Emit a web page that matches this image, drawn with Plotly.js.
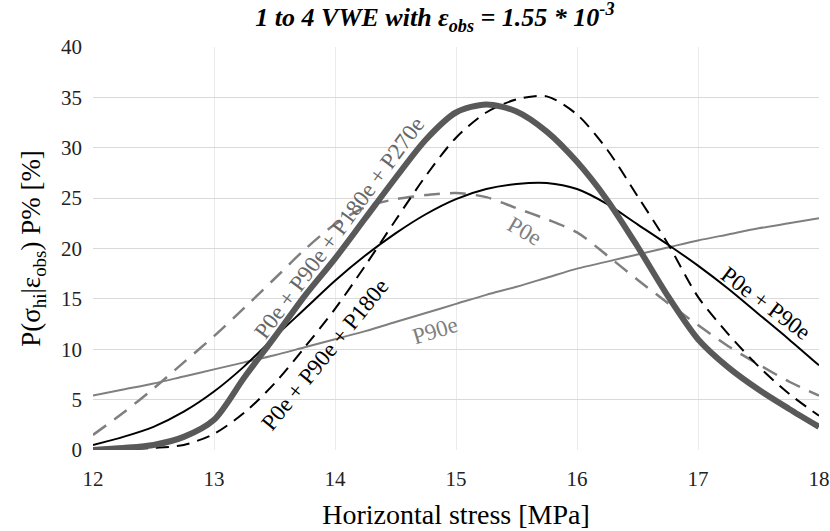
<!DOCTYPE html>
<html>
<head>
<meta charset="utf-8">
<script src="https://cdn.plot.ly/plotly-3.0.1.min.js"></script>
<style>html,body{margin:0;padding:0;background:#fff;}#chart{width:830px;height:531px;}</style>
</head>
<body>
<div id="chart"></div>
<script>
const stress = [12, 12.25, 12.5, 12.75, 13, 13.25, 13.5, 13.75, 14, 14.25, 14.5, 14.75, 15, 15.25, 15.5, 15.75, 16, 16.25, 16.5, 16.75, 17, 17.25, 17.5, 17.75, 18];
const p90e = [5.4, 6.0, 6.6, 7.3, 8.0, 8.7, 9.4, 10.2, 11.0, 11.8, 12.7, 13.6, 14.5, 15.4, 16.2, 17.1, 18.0, 18.7, 19.4, 20.1, 20.8, 21.4, 22.0, 22.5, 23.0];
const p0e = [1.5, 3.7, 6.1, 8.7, 11.3, 14.1, 17.0, 19.9, 22.4, 24.1, 24.9, 25.3, 25.5, 25.1, 24.0, 22.9, 21.6, 19.3, 16.9, 14.6, 12.4, 10.3, 8.5, 6.8, 5.4];
const p0e_p90e = [0.5, 1.3, 2.3, 3.8, 5.8, 8.3, 11.2, 14.0, 16.8, 19.3, 21.5, 23.4, 24.9, 25.9, 26.4, 26.5, 25.9, 24.4, 22.4, 20.4, 18.3, 16.0, 13.5, 11.0, 8.4];
const p0e_p90e_p180e = [0, 0.05, 0.2, 0.5, 1.6, 3.7, 6.6, 10.2, 14.0, 18.3, 22.8, 27.2, 31.0, 33.5, 34.8, 35.1, 33.3, 29.8, 25.2, 20.5, 15.2, 11.5, 8.3, 5.6, 3.4];
const p_all = [0, 0.2, 0.5, 1.3, 3.0, 7.2, 11.2, 15.3, 19.0, 23.0, 27.0, 30.8, 33.5, 34.3, 33.6, 31.6, 28.6, 24.8, 20.2, 15.3, 11.0, 8.2, 6.0, 4.1, 2.3];

const labels = ["P0e + P90e + P180e + P270e", "P0e + P90e + P180e", "P0e", "P90e", "P0e + P90e"];

const serif = "'Liberation Serif', 'Times New Roman', Times, serif";

const traces = [
  {x: stress, y: p90e, mode: "lines", line: {color: "#7f7f7f", width: 2, shape: "spline", smoothing: 0.8}},
  {x: stress, y: p0e, mode: "lines", line: {color: "#7f7f7f", width: 2.5, dash: "16px,10px", shape: "spline", smoothing: 0.8}},
  {x: stress, y: p0e_p90e, mode: "lines", line: {color: "#000000", width: 2, shape: "spline", smoothing: 0.8}},
  {x: stress, y: p0e_p90e_p180e, mode: "lines", line: {color: "#000000", width: 2, dash: "13px,8px", shape: "spline", smoothing: 0.8}},
  {x: stress, y: p_all, mode: "lines", line: {color: "#595959", width: 6, shape: "spline", smoothing: 0.8}}
];

const annFont = (c) => ({family: serif, size: 23, color: c});
const annotations = [
  {x: 14.04, y: 22.05, text: labels[0], textangle: -53.5, font: annFont("#666666")},
  {x: 13.92, y: 9.43, text: labels[1], textangle: -51, font: annFont("#000000")},
  {x: 15.57, y: 21.65, text: labels[2], textangle: 30, font: annFont("#7f7f7f")},
  {x: 14.83, y: 11.9, text: labels[3], textangle: -17, font: annFont("#7f7f7f")},
  {x: 17.56, y: 14.5, text: labels[4], textangle: 37, font: annFont("#000000")}
].map(a => Object.assign({xref: "x", yref: "y", showarrow: false, xanchor: "center", yanchor: "middle"}, a));

const layout = {
  width: 830, height: 531,
  margin: {l: 93, r: 11, t: 47, b: 81},
  paper_bgcolor: "#ffffff", plot_bgcolor: "#ffffff",
  showlegend: false,
  font: {family: serif},
  title: {
    text: "<b><i>1 to 4 VWE with ε<sub>obs</sub> = 1.55 * 10<sup>-3</sup></i></b>",
    font: {family: serif, size: 26, color: "#000000"},
    x: 0.524, xref: "container", xanchor: "center",
    y: 0.968, yref: "container", yanchor: "middle"
  },
  xaxis: {
    range: [12, 18], dtick: 1, tick0: 12,
    showgrid: true, gridcolor: "#ebebeb", gridwidth: 1,
    zeroline: false, showline: false,
    ticks: "", ticklabelstandoff: 14,
    tickfont: {family: serif, size: 21, color: "#222222"},
    title: {text: "Horizontal stress [MPa]", font: {family: serif, size: 28, color: "#000000"}, standoff: 14}
  },
  yaxis: {
    range: [0, 40], dtick: 5, tick0: 0,
    showgrid: true, gridcolor: "#d9d9d9", gridwidth: 1.3,
    zeroline: false, showline: false,
    ticks: "", ticklabelstandoff: 10,
    tickfont: {family: serif, size: 21, color: "#222222"},
    title: {text: "P(σ<sub>hi</sub>|ε<sub>obs</sub>) P% [%]", font: {family: serif, size: 27, color: "#000000"}, standoff: 12}
  },
  annotations: annotations
};

Plotly.newPlot("chart", traces, layout, {displayModeBar: false, responsive: false});
</script>
</body>
</html>
